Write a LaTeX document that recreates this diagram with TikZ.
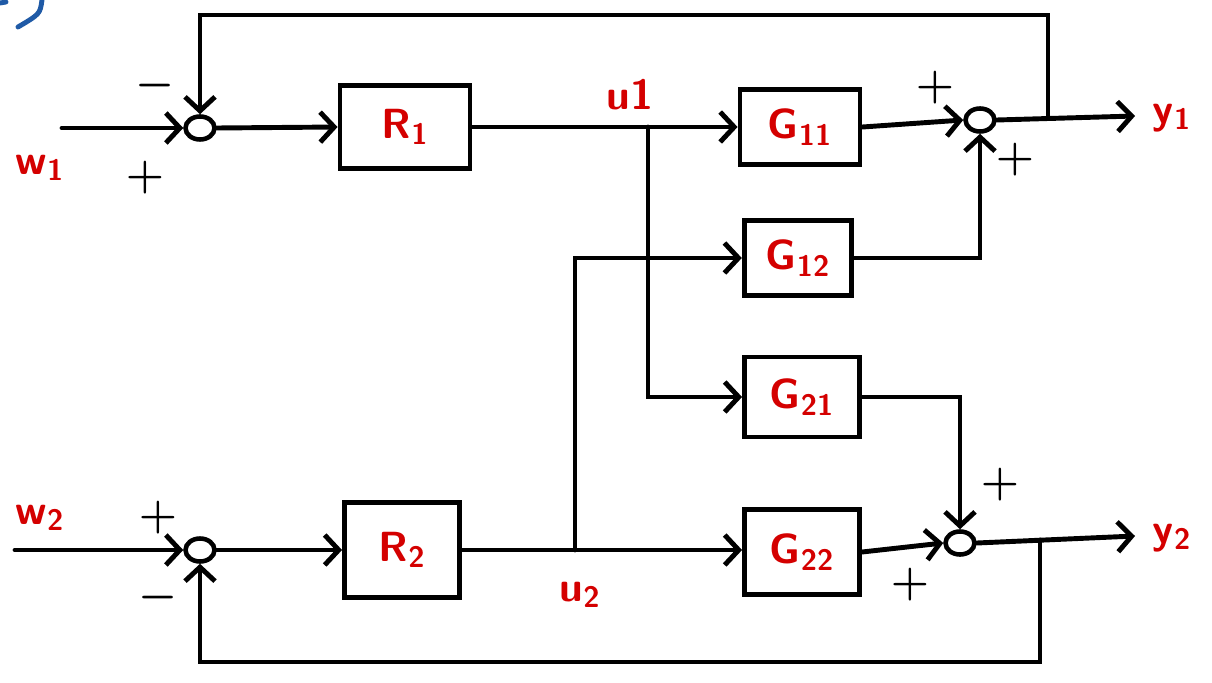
\documentclass[tikz,border=0pt]{standalone}
\usetikzlibrary{arrows.meta}
\definecolor{ink}{HTML}{000000}
\definecolor{pen}{HTML}{D40000}
\definecolor{cblue}{HTML}{1F5AA6}
\newcommand{\hand}{\fontsize{24}{26}\selectfont\sffamily\bfseries}
\tikzset{
  blk/.style={draw=ink, line width=2.8pt, minimum width=2.3cm, minimum height=1.55cm, inner sep=0pt, font=\hand, text=pen},
  sum/.style={draw=ink, line width=2.6pt, ellipse, minimum width=0.58cm, minimum height=0.46cm, inner sep=0pt},
  lbl/.style={font=\hand, text=pen},
  sgn/.style={font=\fontsize{26}{26}\selectfont\boldmath, text=ink},
  wire/.style={line width=2.8pt, draw=ink, line cap=round},
  arr/.style={wire, -{Straight Barb[length=2.8mm, width=6mm, line width=2.8pt]}},
}
\usetikzlibrary{shapes.geometric}

\begin{document}
\begin{tikzpicture}[x=0.02cm, y=-0.02cm]
\useasboundingbox (0,0) rectangle (1212,682);

% ---------------- blocks ----------------
\node[blk, minimum width=2.6cm, minimum height=1.66cm] (R1) at (405,127) {R\textsubscript{1}};
\node[blk, minimum width=2.4cm, minimum height=1.5cm] (G11) at (800,127) {G\textsubscript{11}};
\node[blk, minimum width=2.15cm, minimum height=1.5cm] (G12) at (798,258) {G\textsubscript{12}};
\node[blk, minimum width=2.3cm, minimum height=1.6cm] (G21) at (802,397) {G\textsubscript{21}};
\node[blk, minimum width=2.3cm, minimum height=1.7cm] (G22) at (802,552) {G\textsubscript{22}};
\node[blk, minimum width=2.3cm, minimum height=1.9cm] (R2) at (402,550) {R\textsubscript{2}};

% ---------------- summing points ----------------
\node[sum] (s1) at (200,128) {};
\node[sum] (s2) at (980,120) {};
\node[sum] (s3) at (960,543) {};
\node[sum] (s4) at (200,550) {};

% ---------------- free ends ----------------
\coordinate (w1in) at (62,128);
\coordinate (w2in) at (15,550);
\coordinate (y1out) at (1135,116);
\coordinate (y2out) at (1135,536);
\coordinate (b1) at (648,127);
\coordinate (b2) at (575,550);
\coordinate (fb1) at (1048,118);
\coordinate (fb2) at (1040,540);

% ---------------- arrows ----------------
\draw[arr] (w1in) -- (s1.west);
\draw[arr] (s1.east) -- (R1.west);
\draw[arr] (R1.east) -- (G11.west);
\draw[arr] (b1) |- (G21.west);
\draw[arr] (G11.east) -- (s2.west);
\draw[arr] (s2.east) -- (y1out);
\draw[arr] (G12.east) -| (s2.south);
\draw[arr] (fb1) -- (1048,15) -| (s1.north);
\draw[arr] (w2in) -- (s4.west);
\draw[arr] (s4.east) -- (R2.west);
\draw[arr] (R2.east) -- (R2.east -| G22.west);
\draw[arr] (b2) |- (G12.west);
\draw[arr] (G21.east) -| (s3.north);
\draw[arr] (G22.east) -- (s3.west);
\draw[arr] (s3.east) -- (y2out);
\draw[arr] (fb2) -- (1040,662) -| (s4.south);

% ---------------- signals ----------------
\node[lbl] (w1) at (40,168) {w\textsubscript{1}};
\node[lbl] (w2) at (40,518) {w\textsubscript{2}};
\node[lbl] (u1) at (630,95) {u1};
\node[lbl] (u2) at (580,595) {u\textsubscript{2}};
\node[lbl] (y1) at (1172,118) {y\textsubscript{1}};
\node[lbl] (y2) at (1172,538) {y\textsubscript{2}};

% ---------------- signs ----------------
\node[sgn] at (155,86) {$-$};
\node[sgn] at (145,178) {$+$};
\node[sgn] at (935,88) {$+$};
\node[sgn] at (1015,160) {$+$};
\node[sgn] at (1000,485) {$+$};
\node[sgn] at (910,585) {$+$};
\node[sgn] at (158,518) {$+$};
\node[sgn] at (158,598) {$-$};

% ---------------- corner mark ----------------
\draw[line width=2.8pt, draw=cblue, line cap=round] (18,27) .. controls (40,14) .. (42,0);
\draw[line width=2.8pt, draw=cblue, line cap=round] (0,3) -- (6,2);

\end{tikzpicture}
\end{document}
